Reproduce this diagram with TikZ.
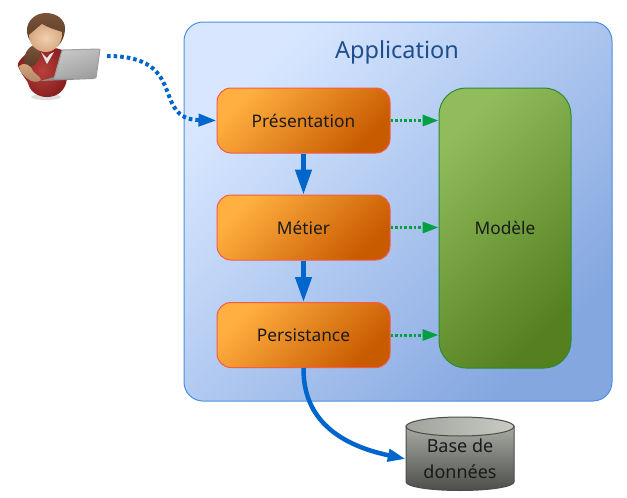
\documentclass[tikz,border=0pt]{standalone}
\usepackage{fontspec}
\setmainfont{Noto Sans}
\usetikzlibrary{arrows.meta,positioning}
\definecolor{appL}{HTML}{D8E7FF}\definecolor{appD}{HTML}{84A7E0}\definecolor{appB}{HTML}{4A90E2}
\definecolor{orL}{HTML}{FFB040}\definecolor{orD}{HTML}{C85A00}\definecolor{orB}{HTML}{F85A48}
\definecolor{grL}{HTML}{90BC5C}\definecolor{grD}{HTML}{55801F}\definecolor{grB}{HTML}{2C8A34}
\definecolor{flowB}{HTML}{0066CC}\definecolor{flowG}{HTML}{00A040}
\definecolor{titleC}{HTML}{1F4E8C}\definecolor{inkC}{HTML}{1A1A1A}
\definecolor{dbTop}{HTML}{A8AAA4}\definecolor{dbBot}{HTML}{4C4E4A}\definecolor{dbCapL}{HTML}{A0A29C}\definecolor{dbCapR}{HTML}{C8CAC4}
\definecolor{shirtA}{HTML}{B8403A}\definecolor{shirtB}{HTML}{8A2020}
\definecolor{hairA}{HTML}{7A5238}\definecolor{hairB}{HTML}{5A3A26}
\definecolor{skinA}{HTML}{F0D0B0}\definecolor{skinB}{HTML}{D8A880}
\tikzset{
  layerbox/.style={draw=orB,line width=1pt,rounded corners=14pt,minimum width=173pt,minimum height=65pt,inner sep=0pt,
    top color=orL,bottom color=orD,shading angle=45,font=\fontsize{17.3}{20}\selectfont,text=inkC},
  modelbox/.style={draw=grB,line width=1pt,rounded corners=27pt,minimum width=132pt,minimum height=280pt,inner sep=0pt,
    top color=grL,bottom color=grD,shading angle=45,font=\fontsize{17.3}{20}\selectfont,text=inkC},
  appbox/.style={draw=appB,line width=1pt,rounded corners=19pt,minimum width=428pt,minimum height=379pt,inner sep=0pt,
    top color=appL,bottom color=appD,shading angle=45},
  calls/.style={draw=flowB,line width=4.5pt,-{Triangle[length=25pt,width=16pt]}},
  uses/.style={draw=flowG,line width=3pt,dash pattern=on 2.6pt off 2pt,-{Triangle[length=16pt,width=11pt]}},
  request/.style={draw=flowB,line width=4pt,dash pattern=on 3.6pt off 3pt,-{Triangle[length=18pt,width=12pt]}},
  store/.style={draw=flowB,line width=4.5pt,-{Triangle[length=18pt,width=12pt]}},
}
\begin{document}
\begin{tikzpicture}[x=1pt,y=-1pt]
\useasboundingbox (0,0) rectangle (627,498);
\fill[white] (0,0) rectangle (627,498);
% application frame
\node[appbox] (app) at (398,211.5) {};
\node[font=\fontsize{23.5}{28}\selectfont,text=titleC] (apptitle) at (397,52) {Application};
% layers
\node[layerbox] (pres) at (303.5,120.5) {Présentation};
\node[layerbox] (met) at (303.5,227.5) {Métier};
\node[layerbox] (pers) at (303.5,335) {Persistance};
\node[modelbox] (mod) at (505,228) {Modèle};
% database
\shade[top color=dbTop,bottom color=dbBot,draw=black!70,line width=1pt]
  (406,426) -- (406,482) arc[start angle=180,end angle=360,x radius=54pt,y radius=8.5pt] -- (514,426) -- cycle;
\shade[left color=dbCapL,right color=dbCapR,draw=black!70,line width=1pt]
  (460,426.5) ellipse[x radius=54pt,y radius=9.5pt];
\node[align=center,font=\fontsize{18}{26}\selectfont,text=inkC,inner sep=0pt,minimum width=108pt,minimum height=46pt] (db) at (460,459) {Base de\\données};
% user
\coordinate (userport) at (107,56);
\fill[black!25,opacity=.5] (46,97) ellipse[x radius=15pt,y radius=3pt];
% body
\shade[inner color=shirtA,outer color=shirtB]
  (26,54) .. controls (19,60) and (17,64) .. (18,66) .. controls (22,76) and (27,80) .. (28,83)
  .. controls (30,92) and (38,97) .. (47,97) .. controls (58,97) and (66,90) .. (67,78)
  -- (67,52) .. controls (55,46) and (36,44) .. (26,54) -- cycle;
% white collar
\fill[white!90!black] (41,52) -- (47,64) -- (54,52) -- (50,54) -- (47,58) -- (44,55) -- cycle;
% hair tail
\shade[top color=hairA,bottom color=hairB]
  (35,45) .. controls (28,46) and (23,55) .. (24,65) .. controls (27,68) and (33,68) .. (37,62)
  .. controls (41,56) and (42,50) .. (35,45) -- cycle;
% hand
\shade[top color=skinB,bottom color=skinB!80!black]
  (19,66) .. controls (24,62) and (30,64) .. (33,71) .. controls (36,75) and (40,76) .. (41,80)
  .. controls (38,83) and (31,82) .. (28,79) .. controls (24,76) and (19,72) .. (19,66) -- cycle;
% hair
\shade[top color=hairA,bottom color=hairB]
  (46,13) .. controls (35,13) and (27,21) .. (27,30) .. controls (27,40) and (33,44) .. (36,46)
  -- (58,46) .. controls (62,42) and (65,36) .. (65,28) .. controls (65,20) and (57,13) .. (46,13) -- cycle;
% face
\shade[inner color=skinA,outer color=skinB]
  (29,35) .. controls (34,31) and (38,27) .. (42,24) .. controls (48,28) and (56,30) .. (62,32)
  .. controls (63,43) and (55,52) .. (46,52) .. controls (37,52) and (29,45) .. (29,35) -- cycle;
% laptop
\fill[black!45] (40,81) -- (93,79) -- (95,78) -- (54,77) -- cycle;
\shade[top color=black!22,bottom color=black!38,shading angle=20,draw=black!38,line width=1pt,rounded corners=1pt]
  (62,50) -- (100,49) -- (96,78) -- (54,79) -- cycle;
% connectors
\draw[request] (userport) .. controls (190,56) and (150,119) .. (pres.west);
\draw[calls] (pres.south) -- (met.north);
\draw[calls] (met.south) -- (pers.north);
\draw[uses] (pres.east) -- (pres.east -| mod.west);
\draw[uses] (met.east) -- (met.east -| mod.west);
\draw[uses] (pers.east) -- (pers.east -| mod.west);
\draw[store] (pers.south) .. controls (303,420) and (340,445) .. (db.west);
\end{tikzpicture}
\end{document}
